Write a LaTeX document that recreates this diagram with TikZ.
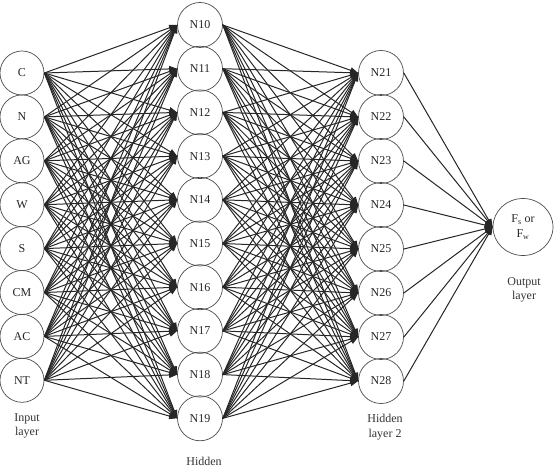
\documentclass[tikz,border=0pt]{standalone}
\usepackage{fontspec}
\setmainfont{Liberation Serif}
\usetikzlibrary{arrows.meta,shapes.geometric}
\begin{document}
\begin{tikzpicture}[x=1pt,y=-1pt,
  neuron/.style={circle,draw=black!70,line width=0.7pt,minimum size=45pt,inner sep=0pt,font=\fontsize{12}{14}\selectfont,text=black!85},
  outnode/.style={ellipse,draw=black!70,line width=0.7pt,minimum width=60pt,minimum height=57pt,inner sep=0pt,align=center,font=\fontsize{12}{15.5}\selectfont,text=black!85},
  conn/.style={draw=black!85,line width=1pt,-{Triangle[length=8pt,width=6pt]}},
  lbl/.style={align=center,font=\fontsize{12}{14.5}\selectfont,text=black!80}]
\useasboundingbox (0,0) rectangle (557,470);
% input layer
\foreach \t [count=\i from 0] in {C,N,AG,W,S,CM,AC,NT}
  \node[neuron,minimum size=44pt] (in\i) at (22,{73+43.9*\i}) {\t};
% hidden layer 1
\foreach \i in {0,...,9}
  \node[neuron] (h\i) at (200,{25+43.7*\i}) {N1\i};
% hidden layer 2
\foreach \i in {1,...,8}
  \node[neuron] (g\i) at (381,{73+44*(\i-1)}) {N2\i};
% output
\node[outnode] (out) at (523,227) {F\textsubscript{s} or\\F\textsubscript{w}};
% connections
\foreach \a in {0,...,7}
  \foreach \b in {0,...,9}
    \draw[conn] (in\a.east) -- (h\b.west);
\foreach \a in {0,...,9}
  \foreach \b in {1,...,8}
    \draw[conn] (h\a.east) -- (g\b.west);
\foreach \a in {1,...,8}
  \draw[conn] (g\a.east) -- (out.west);
% labels
\node[lbl] (linput) at (27,426) {Input\\layer};
\node[lbl] (lhid2) at (385,427) {Hidden\\layer 2};
\node[lbl] (lhid1) at (204,461) {Hidden};
\node[lbl] (lout) at (524,290) {Output\\layer};
\end{tikzpicture}
\end{document}
